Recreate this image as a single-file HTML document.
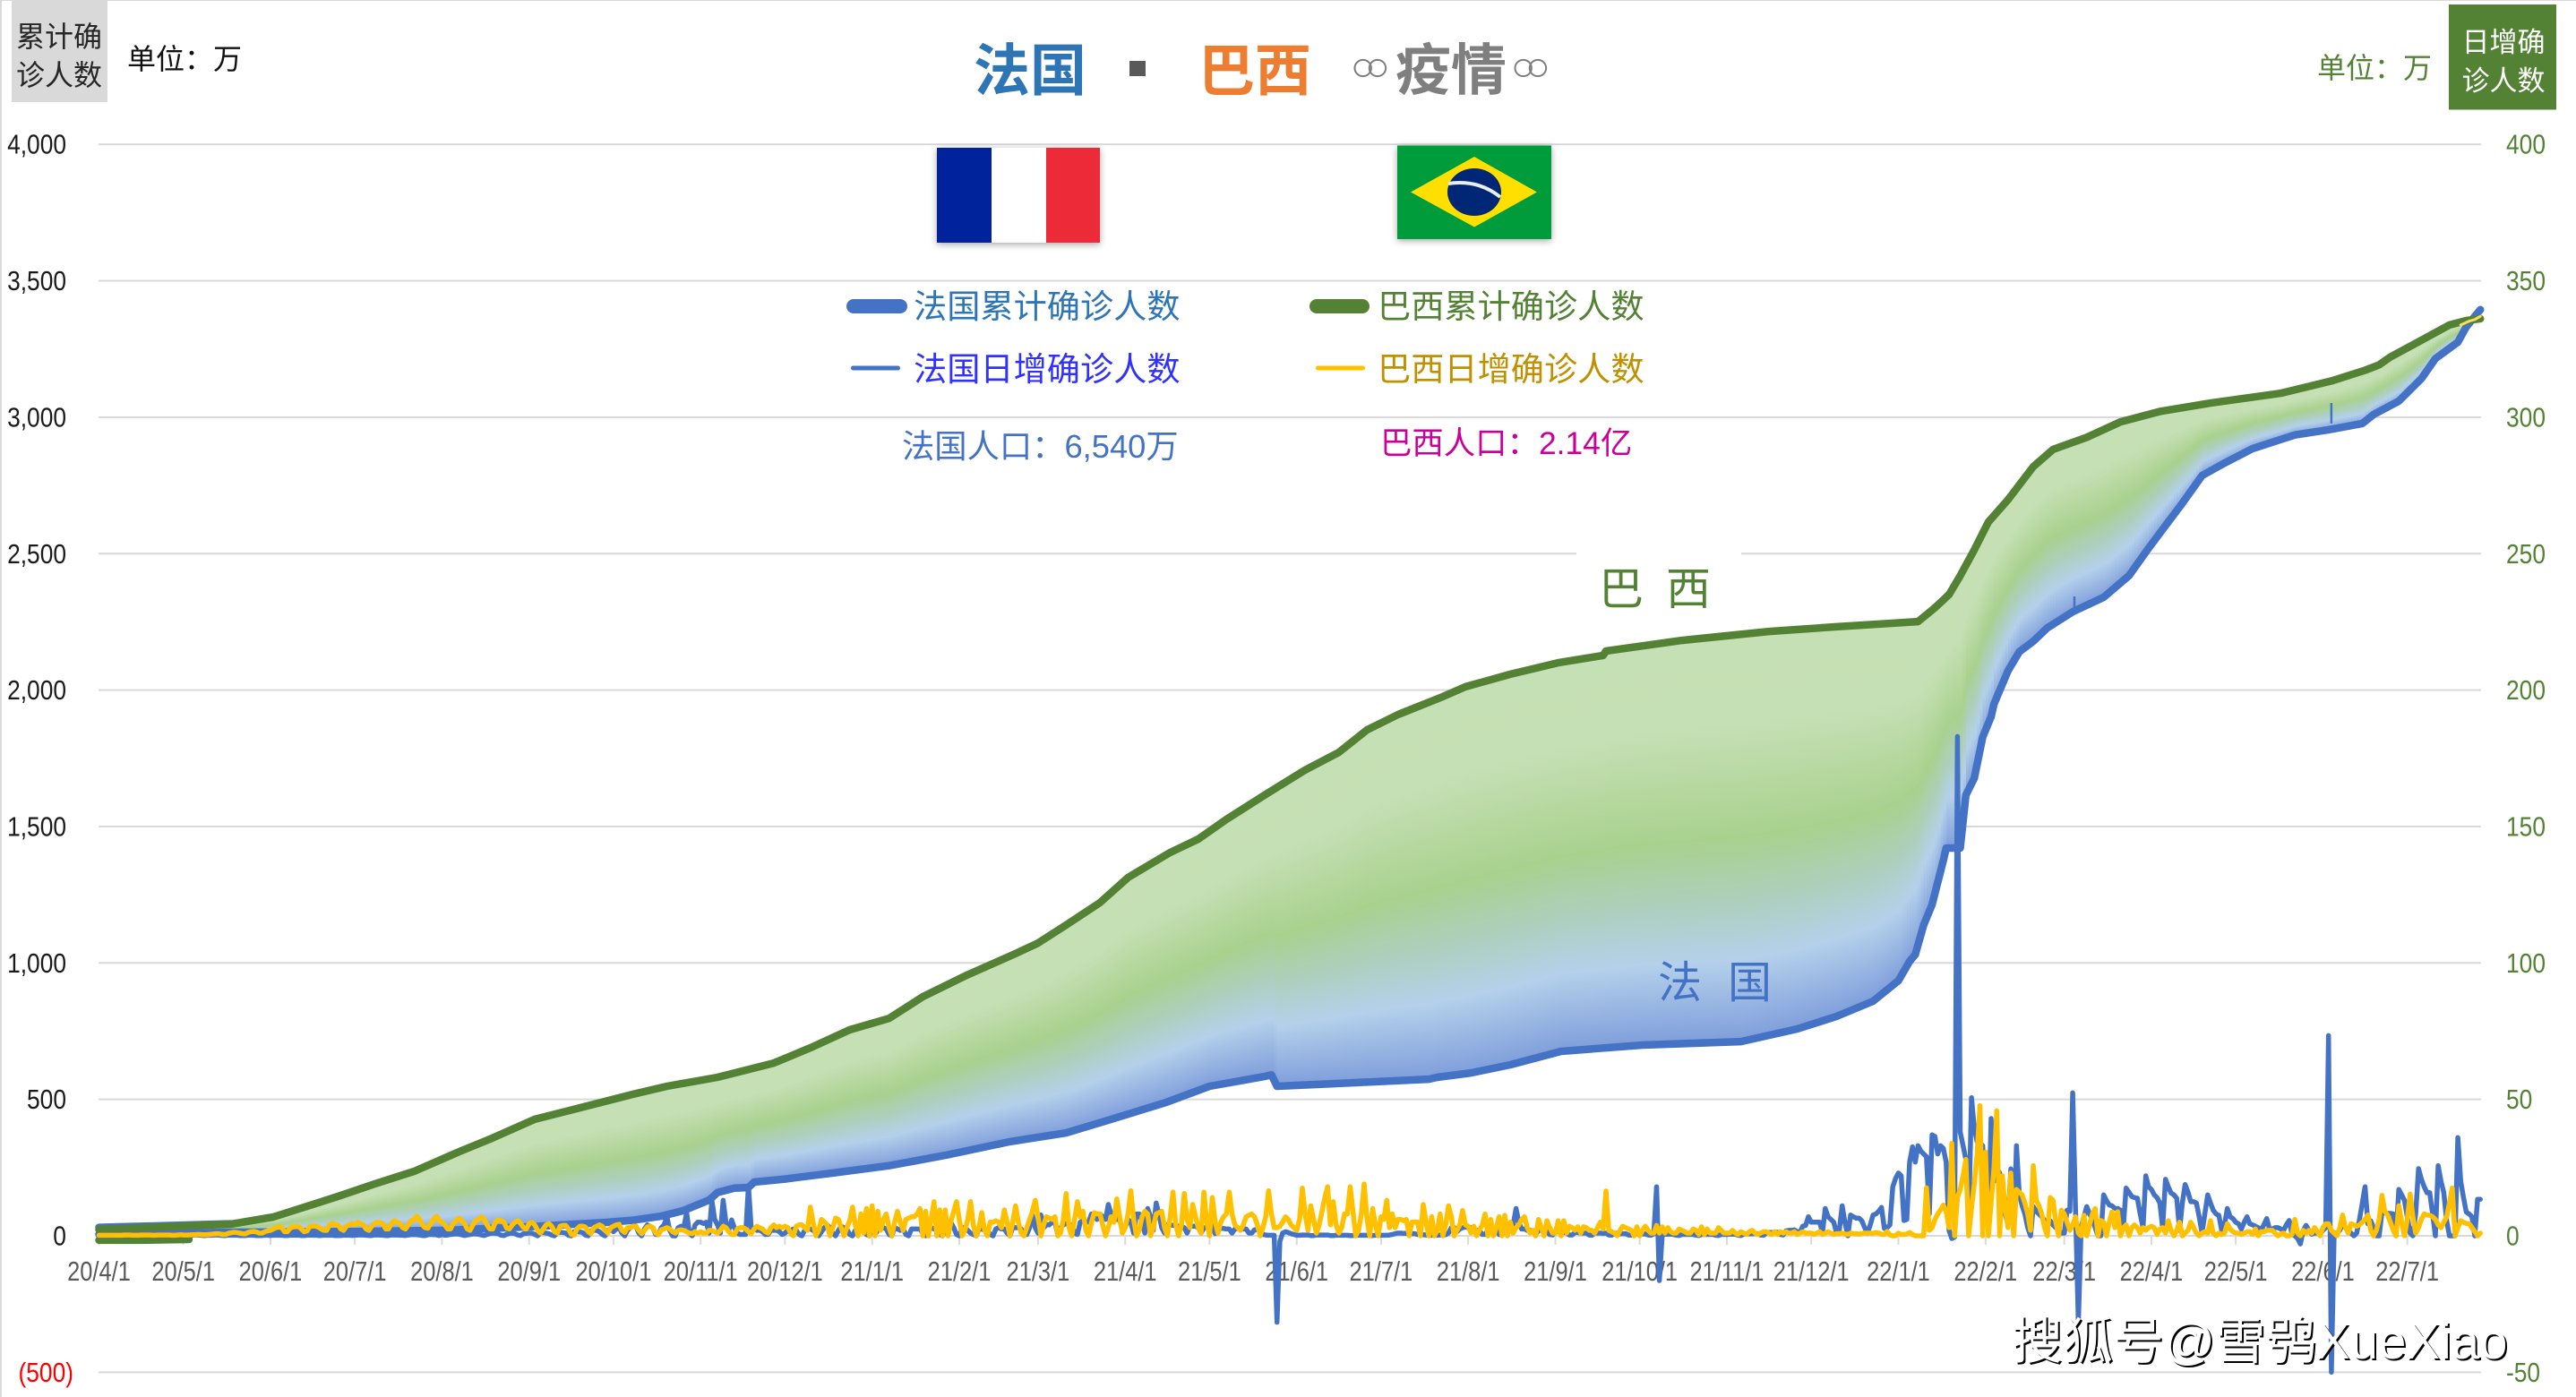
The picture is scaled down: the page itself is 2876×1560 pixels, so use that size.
<!DOCTYPE html>
<html lang="zh-CN">
<head>
<meta charset="utf-8">
<title>法国 巴西 疫情</title>
<style>
html,body{margin:0;padding:0;background:#fff}
svg{display:block}
text{font-family:"Liberation Sans","Noto Sans CJK SC",sans-serif}
</style>
</head>
<body>
<svg id="chart" xmlns="http://www.w3.org/2000/svg" width="2876" height="1560" viewBox="0 0 2876 1560">
<defs>
<linearGradient id="areaGradient" x1="0" y1="0" x2="0" y2="1">
<stop offset="0" stop-color="#C6E0B5"/>
<stop offset="0.22" stop-color="#C5E0B4"/>
<stop offset="0.5" stop-color="#A9D18E"/>
<stop offset="0.65" stop-color="#ADCFBB"/>
<stop offset="0.8" stop-color="#B4D0EB"/>
<stop offset="1" stop-color="#7F9EDB"/>
</linearGradient>
<filter id="flagShadow" x="-10%" y="-10%" width="120%" height="125%"><feDropShadow dx="0" dy="2" stdDeviation="4" flood-color="#000" flood-opacity="0.35"/></filter>
</defs>
<rect width="2876" height="1560" fill="#fff"/>
<rect x="0" y="0" width="2876" height="1" fill="#D9D9D9"/>
<rect x="0" y="0" width="2" height="1560" fill="#D9D9D9"/>
<g id="grid"></g>
<g id="area"></g>
<g id="labels"></g>

<rect x="13" y="1" width="107" height="113" fill="#D9D9D9"/>
<text x="66" y="52" font-size="32" text-anchor="middle" fill="#262626">累计确</text>
<text x="66" y="95" font-size="32" text-anchor="middle" fill="#262626">诊人数</text>
<text x="142" y="77" font-size="32" fill="#111">单位：万</text>

<rect x="2734" y="5" width="120" height="117.5" fill="#548235"/>
<text x="2795" y="58" font-size="31" text-anchor="middle" fill="#fff">日增确</text>
<text x="2795" y="101" font-size="31" text-anchor="middle" fill="#fff">诊人数</text>
<text x="2587" y="87" font-size="32" fill="#548235">单位：万</text>

<g>
<text x="1087" y="101" font-size="63" font-weight="700" fill="#2E75B6">法国</text>
<rect x="1261" y="68" width="18" height="17" fill="#595959"/>
<text x="1338" y="101" font-size="63" font-weight="700" fill="#ED7D31">巴西</text>
<text font-size="62" font-weight="700" fill="#7F7F7F" y="100"><tspan x="1501" y="102" font-size="70" font-weight="400" letter-spacing="-25" style="font-family:'DejaVu Sans',sans-serif">◦◦</tspan><tspan x="1558" y="100">疫情</tspan><tspan x="1680" y="102" font-size="70" font-weight="400" letter-spacing="-25" style="font-family:'DejaVu Sans',sans-serif">◦◦</tspan></text>
</g>

<g filter="url(#flagShadow)">
<rect x="1046" y="165" width="61" height="106" fill="#00239B"/>
<rect x="1107" y="165" width="61" height="106" fill="#fff"/>
<rect x="1168" y="165" width="60" height="106" fill="#ED2939"/>
</g>
<g>
<rect x="1560" y="162.5" width="172" height="104.5" fill="#009B3A" filter="url(#flagShadow)"/>
<polygon points="1575,214.5 1646,175 1716,214.5 1646,253.5" fill="#FEDF00"/>
<ellipse cx="1646" cy="214.5" rx="30" ry="26.5" fill="#002776"/>
<path d="M1617 205 Q1650 200 1675 220" fill="none" stroke="#E8EEE8" stroke-width="4"/>
</g>

<g>
<rect x="945" y="334" width="68" height="16" rx="8" fill="#4472C4"/>
<text x="1020" y="355" font-size="37.2" fill="#2E75B6">法国累计确诊人数</text>
<rect x="1462" y="334" width="67" height="16" rx="8" fill="#548235"/>
<text x="1538" y="355" font-size="37.2" fill="#548235">巴西累计确诊人数</text>
<rect x="950" y="408.5" width="55" height="5" rx="2.5" fill="#4472C4"/>
<text x="1020" y="425" font-size="37.2" fill="#3030FF">法国日增确诊人数</text>
<rect x="1469" y="408.5" width="55" height="5" rx="2.5" fill="#FFC000"/>
<text x="1538" y="425" font-size="37.2" fill="#BF9000">巴西日增确诊人数</text>
</g>
<text x="1007" y="511" font-size="36.3" fill="#4472C4">法国人口：6,540万</text>
<text x="1541" y="507" font-size="35.4" fill="#CC0099">巴西人口：2.14亿</text>

<rect x="1760" y="612" width="184" height="78" fill="#fff"/>
<text y="675" font-size="50" fill="#548235"><tspan x="1785">巴</tspan><tspan x="1860">西</tspan></text>

<g id="lines"></g>

<text y="1114" font-size="49" fill="#4472C4"><tspan x="1851">法</tspan><tspan x="1929">国</tspan></text>
<text x="2246" y="1517" font-size="56.5" fill="#fff" style="filter:drop-shadow(2px 2px 0 #000)">搜狐号@雪鸮XueXiao</text>
</svg>

<script>
const tickLabels = ["20/4/1","20/5/1","20/6/1","20/7/1","20/8/1","20/9/1","20/10/1","20/11/1","20/12/1","21/1/1","21/2/1","21/3/1","21/4/1","21/5/1","21/6/1","21/7/1","21/8/1","21/9/1","21/10/1","21/11/1","21/12/1","22/1/1","22/2/1","22/3/1","22/4/1","22/5/1","22/6/1","22/7/1"];
const leftTicks = [4000,3500,3000,2500,2000,1500,1000,500,0,-500];
const leftTickLabels = ["4,000","3,500","3,000","2,500","2,000","1,500","1,000","500","0","(500)"];
const rightTicks = [400,350,300,250,200,150,100,50,0,-50];

const brazilCumulativeDays = [0,47,62,78,86,98,112,129,139,155,171,190,202,220,240,253,267,281,293,308,326,334,344,356,366,381,391,401,415,429,441,451,462,478,486,502,519,535,536,563,594,618,647,653,658,662,667,672,679,688,695,707,719,733,751,776,794,806,811,815,826,836,842,847];
const brazilCumulativeValues = [23,43,69,121,148,190,236,312,354,427,469,519,548,581,633,689,755,797,876,952,1034,1073,1139,1221,1313,1405,1454,1526,1618,1707,1772,1854,1910,1976,2012,2058,2100,2127,2143,2182,2215,2232,2251,2302,2350,2419,2514,2616,2698,2819,2882,2926,2983,3021,3052,3088,3133,3172,3192,3221,3282,3338,3354,3361];

const franceCumulativeDays = [0,47,92,124,153,180,190,200,208,217,220,226,231,233,244,261,281,301,324,344,360,379,395,415,417,419,446,473,476,488,502,520,549,584,604,618,631,640,644,646,649,652,656,657,662,664,667,670,673,674,679,683,688,693,702,713,722,729,735,741,748,756,766,781,793,805,809,818,826,831,839,842,847];
const franceCumulativeValues = [5,13,16,20,33,49,57,72,93,131,159,175,177,197,208,230,257,295,345,377,427,487,548,585,590,548,561,574,581,597,627,676,699,712,758,804,860,935,1006,1031,1139,1214,1376,1421,1421,1615,1677,1828,1903,1949,2071,2140,2179,2228,2287,2340,2419,2520,2603,2685,2786,2832,2885,2935,2954,2977,3010,3059,3141,3215,3275,3331,3394];

const franceStartEdgeDays = [0,20,47];
const franceStartEdgeValues = [31,36,44];
const brazilStartEdgeDays = [0,15,32];
const brazilStartEdgeValues = [-16,-16,-13];
const endMarkerDays = [840,843,845,847];
const endMarkerValues = [3338,3352,3358,3370];
const franceGlitchDays = [702.6,794];
const franceGlitchLow = [2304,2977];
const franceGlitchHigh = [2343,3052];

const franceDailyByMonth = [
[.3,.4,.5,.5,.4,.3,.3,.4,.5,.5,.5,.4,.3,.3,.4,.4,.4,.4,.3,.2,.2,.3,.3,.3,.3,.3,.2,.2,.3,.3],
[.2,.1,.1,.2,.3,.3,.2,.1,.1,.2,.2,.3,.3,.2,.1,.1,.2,.2,.2,.2,.1,.1,.1,.2,.2,.2,.1,.1,.1,.2,.2],
[.1,.2,.2,.2,.2,.1,.1,.2,.2,.2,.2,.1,.1,.2,.2,.2,.2,.1,.1,.2,.2,.2,.2,.1,.1,.1,.2,.2,.2,.1],
[.2,.3,.3,.3,.2,.1,.1,.3,.3,.3,.2,.1,.1,.3,.3,.3,.2,.2,.1,.3,.4,.4,.4,.3,.1,.1,.4,.5,.4,.4,.1],
[.5,.2,.3,.5,.6,.7,.6,.4,.1,.3,.5,.7,.7,.6,.3,.1,.5,.8,1,.9,.8,.2,.1,.6,.9,1,.8,.3,.1,.8,.9],
[1,1,.5,0,1,1.2,1,.8,.3,0,1.2,1.3,1.2,1,.2,0,1.5,1.5,1.4,1.2,.3,0,1.8,2,2,1.5,.5,0,2,2.5],
[1.5,2.5,3,1,0,2,3,3.5,3.5,1,0,2.5,4,3.5,3,.5,.5,3,4,7,2,0,0,3,3.5,3,8.5,1,0,4,5],
[5,4.5,5,1,13,6,4,1,13,5,2,5.8,3,1,.5,.5,.5,18.4,3,2.5,2,2,1.5,.5,.5,2,2,2,1.5,.5],
[1,2,2,2.5,2,.5,0,2,2.5,2.5,2,1,0,1.5,3,4,3,1,0,2,3.5,3,2.5,.5,0,2,2.5,4,2.5,.5,0],
[3,.5,2,3.5,3,2.5,.5,0,3,2.5,2,2.5,.5,0,2.5,2.5,2.5,2.5,1,0,3,3,2.5,2.5,.5,0,2.5,3,5,3,.5],
[0,3,3,2,1,.5,0,2.5,2.5,2,2,.5,0,2.5,3,2.5,2.5,1,0,3,3,3,2.5,1,.5,3,7.6,3],
[1,7.6,3,4,4,5,5,.5,3,4,4.5,4,4,1,.5,5,5.5,5,5,8,8,6,8,7,6,11.5,8,7,6,6,2],
[3,6,5,1,8,8,5,1,10,7,2,12,8,3,1,4,4,3.8,3.8,3.5,3.5,3,1,3.5,3.5,3.5,3,1,3,3],
[3,3.5,.8,3,2.7,2.7,2.5,2.5,1,2.5,2.7,2.7,2.5,2.5,1,1,2.2,2.2,2.2,.5,.3,.2,.2,.2,-31.7,-2,1,1.5,1.2,.8,.5],
[.2,.2,.3,.3,.3,.1,.1,.3,.3,.3,.3,.3,.1,.1,.2,.2,.2,.2,.2,.1,.1,.2,.2,.2,.2,.2,.1,.1,.2,.2],
[.2,.2,.2,.3,.5,.8,1,1,.9,.9,.8,.8,.8,.5,.5,.4,.3,.3,.2,.2,.2,.3,.3,.4,1,3,3,1.5,2.5,3,3.2],
[3,3,2.5,2,2,.5,.5,2,3,2.5,2.5,.5,.3,2.5,2.5,2,4,10,5,2.5,2.5,2,2,1.5,.5,2,2,1.5,1.5,.5,.3],
[1.5,1.5,1.5,1.2,1,.3,.3,1.2,1.2,1,1,1,.3,.2,1,1,1,.9,1,.3,.2,.9,.9,.8,.8,.8,.3,.2,.8,.8],
[.8,.7,.7,.3,.2,.7,18,-16.4,.3,.6,.6,.6,.5,.2,.1,.5,.5,.5,.5,.5,.2,.1,.5,.5,.5,.5,.5,.2,.1,.5,.5],
[.5,.6,.6,.6,.2,.1,.6,.7,.7,.8,.8,.8,.3,.2,1,1.2,1.2,1.3,1.3,.5,.3,1.8,2,2,2.2,1.5,1.3,3.5,3.8,7],
[5,5,5,5,1,10,7,6,5,1,2,11,5,0,7.6,7,6.5,6.5,5.5,3,1,4,7.6,8,9,10.4,2.7,3,4,18,21],
[23,22,5.6,6,27,32.6,27,33,31,30,29,8,37,36.4,30,33,32,27,2,-1,-.5,183,38,33,28,4,50.6,39.5,34.5,34,33],
[10,3,43,20,25,23,17,8,4,24.5,.6,33,15.7,11,8,3,0,10.7,9,8,7,5.6,5,5.5,4,3,2,1],
[1,9.4,9,52.4,10,-32,3,7,10.7,8,6,3,0,0,15,13,11.3,11,10,10,9.4,3,17.5,16,14.4,14,13.8,8,3,22,18],
[17,15,14,12,3,20.7,18,15.7,15,13.8,2,12,18.8,16,12.5,12.5,12,7,1,8,15,12,9.4,8,7.5,2,4,10,7,6.3],
[5,4.4,2.5,5,7,4.4,4,3.5,3,2,4,6.3,2.5,2.5,3,3,2.5,2,4,5.6,.6,0,-1,-3,2,3.8,2,.6,1,1,.6],
[2,3,73.4,-50,1,1,2,4.4,3,2,1,0,1,6,12,18,4.4,5.5,3,0,0,8.7,8.5,8.2,8.2,8,0,17,15,13],
[7,1,0,8,24.6,20.8,18,15.8,15.8,8,0,25.7,20,15.8,5.5,0,0,0,36,20,14,8.7,8,7,0,13.4,13.4]
];

const brazilDailyByMonth = [
[.2,.2,.2,.2,.2,.2,.2,.2,.2,.3,.3,.3,.2,.2,.2,.3,.3,.3,.3,.2,.2,.3,.3,.3,.3,.3,.2,.2,.3,.4],
[.3,.3,.3,.4,.4,.5,.5,.4,.4,.5,.6,.7,.8,.7,.5,.5,.9,1.1,1.3,1.2,1,.8,.7,1.2,1.5,1.6,1.4,1,1,1.5,1.8],
[2,2.5,3,3.2,3,1.5,1.5,2.8,3.2,3.4,3.3,2.5,1.5,1.8,3.4,3.6,3.5,3.2,2.5,2,2,4,4.5,4.2,4,2.5,2,3.5,4,4.5],
[4,5,4.5,4,2.5,2,3.5,4.5,5,4.8,4.5,2.5,2.5,4.5,5.5,5,4.5,3,2.5,4,5.5,5.8,7.2,6,4,3,2.8,4.5,6,7.2,5.5],
[5,4,2.5,2.5,4.5,5.5,6.5,5.5,4.5,2.5,2,4,5.5,6,7,6,4,2.5,2.5,5,5.8,5.5,5,2.8,2.5,4,5,5.5,4.5,3,2.5],
[4.5,5,4,2,1,2.5,4,4.5,3.5,1.5,1,3.5,3.8,3.8,2.5,.5,.3,2.5,3.5,3.5,3.2,1.5,.8,3,3.5,4,3.5,2,1,3],
[3.5,4,4.2,2,1.2,3,3,3.5,3.5,2,.8,2,3.2,3.5,3,1,.5,2.2,2.5,3,2.5,1.5,1,2,2.2,2,1.5,1,.8,1.5,1],
[1.5,1,1,2,2,1.5,1,2,3.5,3,1.5,.5,.5,2.5,3,3,2.5,1.5,.8,2.5,3.5,3,2.5,1.5,1,3,4,3,3.5,3],
[3.5,3,1,0,3.5,4,4,3,2,10.5,5,0,2,6,5,4,0,3,6.5,6,3,0,3,5.5,10.5,4,0,8,1,10,0],
[11,0,9,2,6,8,3,0,5,9,5,2,6,6.5,7,7,8,10,0,9,0,6,12.5,0,9.5,0,9.5,0,5,9,12.5],
[6,0,2,6,12.5,4,0,3,8.5,2,0,5,5,5.5,5,3,9.5,5,0,5,11,5,1,0,3,6,9,13],
[7,0,4,7,6.5,6,7,0,1,6,15.5,3,0,6,12.5,7,9,2,0,5,8.5,8,8,4,0,3,7,5,13.5,7,1],
[3,8,16.5,6,0,2,7,9,8,0,3,8,8.5,9,3,0,7,16,4,0,4,15.5,6,3,11.5,7,3,1,16,5],
[0,14,5,1,5,7,8,16,8,4,3,2,4,7,7.5,8,7,4,0,3,7,16.5,8,3,3,3.5,5,7,6,4,3],
[2,6,17.5,8,2,11,6,1,4,9,14,18,4,12.5,4,1,3,8,8,18,9,0,2,8,19,6,0,10,4,0],
[7,6,13,3,8,3,6,6,5.5,6,0,5,5,5,0,11.5,5,0,7,0,2,8,0,4,11,7,0,2,4,9.3,4],
[3.5,1,3.5,0,2,4,8,0,6,0,3,7,0,7.5,0,5,1,3,4,6,7,3,1,2,0,6,3,0,5.5,3,1],
[1,5.5,0,5.5,1,3.5,3,2,3.3,1,3.3,3,2,2,1,3,5,2.5,16.4,2,1.5,1,0,2,3.5,3,2.5,2,0,3.3],
[0,2,3.5,2,1,1,3.8,1,3.3,1,3,1.5,1,1,2.5,2,1.5,1,1,2.5,2,.5,3.3,.5,2.5,1,1,1,3,2,1],
[1,1,2,1,.5,1.5,1,.5,1.5,2,1,.5,1,1.5,1.5,1,.5,1.5,.5,1.5,1,1.5,1,1,1.5,.5,1,1.5,1,1],
[1,.5,1,1.5,.5,1,1.5,1,.5,.8,.8,1,.7,.5,1,.8,.8,.6,.9,1,1,1,.9,1.2,1,.6,.5,1.6,.3,0,0],
[1,.5,.5,.7,1.2,.5,0,0,0,0,17.6,2,3,6,8,9.5,11.3,9,3,33.9,0,14,17,22,28,0,10,19,30,47.7,0],
[30.7,0,12,25,45.8,0,22,10,3,23,0,17,16,15,12,8,2,25.7,13,11,8,3,0,14,13,5,0,9.4],
[8,5,2,4,7,1,0,7.5,0,4,8,10,0,5.6,5,0,5,8.8,3,8.8,0,3,4,0,3,4,3,1,3,2,3],
[3.5,3,.5,2.5,3,1,5.5,2,0,2,5,0,1,2,5,3,1,0,1,1.5,1,5.5,1,0,1,.5,1,4.4,2.5,1.5],
[1,1,.5,1,1.5,1.5,.5,2.5,0,1.5,1.5,2,2,2,1,0,.7,1,0,0,.5,6,1,0,2,1,2,1,3,1.5,0],
[3,4.4,4.4,2,1,0,3,7.6,3,1,4.4,4,3.5,4,5,6,7.6,2,0,2,6,14.8,9,7.6,5,2,0,11,5,0],
[6,15.3,7,1,3,6,8,7.6,7.5,7,6,4,3,5,7,12,17.5,0,3,5.5,5,4.5,4.4,3,1.5,0,1]
];

const NS = 'http://www.w3.org/2000/svg';
const plotLeft = 110.5, plotRight = 2770, pxPerDay = 3.139;
const zeroY = 1380, leftPx = 0.3047, rightPx = 3.047;
const dayMs = 86400000;
const originMs = Date.UTC(2020, 3, 1);

function xScale(day) { return plotLeft + day * pxPerDay; }
function yLeft(value) { return zeroY - value * leftPx; }
function yRight(value) { return zeroY - value * rightPx; }
function monthStart(i) { return Math.round((Date.UTC(2020, 3 + i, 1) - originMs) / dayMs); }
function lerpAt(days, values, day) {
  if (day <= days[0]) return values[0];
  for (let i = 1; i < days.length; i++) {
    if (day <= days[i]) {
      const t = (day - days[i - 1]) / (days[i] - days[i - 1]);
      return values[i - 1] + t * (values[i] - values[i - 1]);
    }
  }
  return values[values.length - 1];
}
function polyPoints(days, values, yFn) {
  return days.map(function (d, i) { return xScale(d).toFixed(1) + ',' + yFn(values[i]).toFixed(1); }).join(' ');
}
function makeLine(parent, pts, color, width, name) {
  const el = document.createElementNS(NS, 'polyline');
  el.setAttribute('points', pts);
  el.setAttribute('fill', 'none');
  el.setAttribute('stroke', color);
  el.setAttribute('stroke-width', width);
  el.setAttribute('stroke-linejoin', 'round');
  el.setAttribute('stroke-linecap', 'round');
  
  
  parent.appendChild(el);
  return el;
}
function makeLabel(parent, str, x, y, anchor, color, size, squeeze, name) {
  const el = document.createElementNS(NS, 'text');
  el.setAttribute('x', x);
  el.setAttribute('y', y);
  el.setAttribute('text-anchor', anchor);
  el.setAttribute('fill', color);
  el.setAttribute('font-size', size);
  el.textContent = str;
  
  
  parent.appendChild(el);
  el.setAttribute('lengthAdjust', 'spacingAndGlyphs');
  el.setAttribute('textLength', (el.getComputedTextLength() * squeeze).toFixed(1));
  return el;
}

const grid = document.getElementById('grid');
const labels = document.getElementById('labels');
const area = document.getElementById('area');
const lines = document.getElementById('lines');

leftTicks.forEach(function (v, i) {
  const y = yLeft(v);
  const g = document.createElementNS(NS, 'rect');
  g.setAttribute('x', 110);
  g.setAttribute('y', y - 1);
  g.setAttribute('width', plotRight - 110);
  g.setAttribute('height', 2);
  g.setAttribute('fill', '#D9D9D9');
  
  
  grid.appendChild(g);
  const neg = v < 0;
  makeLabel(labels, leftTickLabels[i], neg ? 82 : 74, y + 10.5, 'end', neg ? '#FF0000' : '#1a1a1a', 31, 0.85, 'left-axis-tick-label');
});
rightTicks.forEach(function (v) {
  makeLabel(labels, String(v), 2798, yRight(v) + 10.5, 'start', '#548235', 31, 0.85, 'right-axis-tick-label');
});
tickLabels.forEach(function (t, i) {
  const x = xScale(monthStart(i));
  const k = document.createElementNS(NS, 'rect');
  k.setAttribute('x', x - 1);
  k.setAttribute('y', zeroY);
  k.setAttribute('width', 2);
  k.setAttribute('height', 10);
  k.setAttribute('fill', '#D9D9D9');
  
  
  grid.appendChild(k);
  makeLabel(labels, t, x, 1430, 'middle', '#595959', 31, 0.82, 'x-axis-tick-label');
});

for (let d = 30; d < 847; d++) {
  const top = yLeft(lerpAt(brazilCumulativeDays, brazilCumulativeValues, d));
  const bottom = yLeft(lerpAt(franceCumulativeDays, franceCumulativeValues, d));
  if (bottom - top < 1) continue;
  const r = document.createElementNS(NS, 'rect');
  r.setAttribute('x', xScale(d).toFixed(1));
  r.setAttribute('y', top.toFixed(1));
  r.setAttribute('width', (pxPerDay + 0.4).toFixed(2));
  r.setAttribute('height', (bottom - top).toFixed(1));
  r.setAttribute('fill', 'url(#areaGradient)');
  r.setAttribute('shape-rendering', 'crispEdges');
  
  
  area.appendChild(r);
}

makeLine(lines, polyPoints(brazilStartEdgeDays, brazilStartEdgeValues, yLeft), '#548235', 8.5, 'brazil-start-edge');
makeLine(lines, polyPoints(franceStartEdgeDays, franceStartEdgeValues, yLeft), '#4472C4', 8.5, 'france-start-edge');
makeLine(lines, polyPoints(franceCumulativeDays, franceCumulativeValues, yLeft), '#4472C4', 8.5, 'france-cumulative-line');
franceGlitchDays.forEach(function (d, i) {
  const g = document.createElementNS(NS, 'line');
  g.setAttribute('x1', xScale(d));
  g.setAttribute('x2', xScale(d));
  g.setAttribute('y1', yLeft(franceGlitchLow[i]));
  g.setAttribute('y2', yLeft(franceGlitchHigh[i]));
  g.setAttribute('stroke', '#4472C4');
  g.setAttribute('stroke-width', 2.5);
  
  
  lines.appendChild(g);
});
makeLine(lines, polyPoints(brazilCumulativeDays, brazilCumulativeValues, yLeft), '#548235', 8.5, 'brazil-cumulative-line');
makeLine(lines, polyPoints(endMarkerDays, endMarkerValues, yLeft), '#FFD966', 3, 'end-marker-line');

function dailyPoints(rows) {
  const out = [];
  rows.forEach(function (row, m) {
    const start = monthStart(m);
    row.forEach(function (v, i) {
      out.push(xScale(start + i).toFixed(1) + ',' + yRight(v).toFixed(1));
    });
  });
  return out.join(' ');
}
makeLine(lines, dailyPoints(franceDailyByMonth), '#4472C4', 5.5, 'france-daily-line');
makeLine(lines, dailyPoints(brazilDailyByMonth), '#FFC000', 5.5, 'brazil-daily-line');
</script>
</body>
</html>
